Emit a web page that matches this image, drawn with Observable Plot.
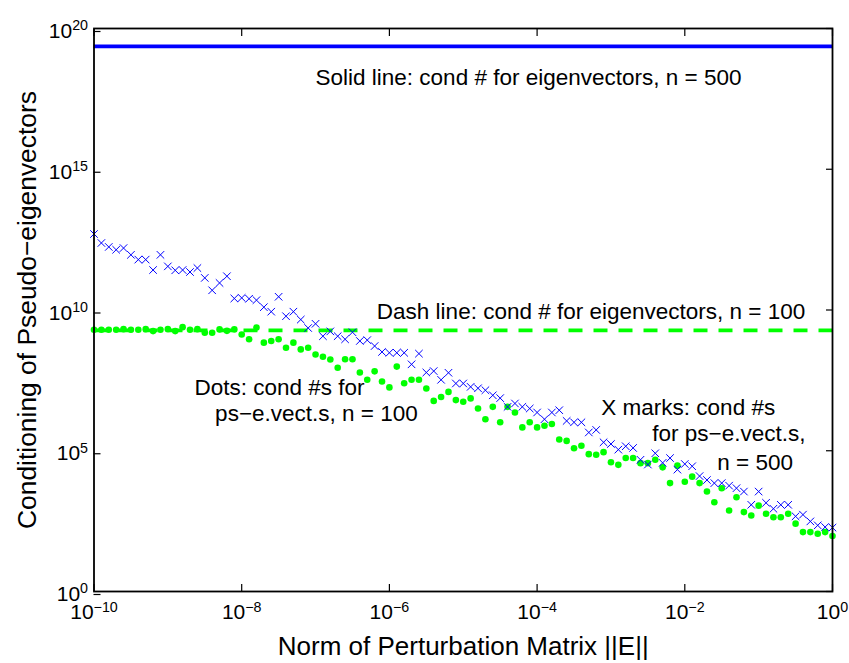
<!DOCTYPE html>
<html><head><meta charset="utf-8">
<script src="https://cdn.jsdelivr.net/npm/d3@7"></script>
<script src="https://cdn.jsdelivr.net/npm/@observablehq/plot@0.6"></script>
<style>html,body{margin:0;padding:0;background:#fff;}</style>
</head><body><div id="chart"></div>
<script>
// log10 of ||E|| for each sample
const normExponents = [
 -10,-9.9,-9.8,-9.7,-9.6,-9.5,-9.4,-9.3,-9.2,-9.1,
 -9,-8.9,-8.8,-8.7,-8.6,-8.5,-8.4,-8.3,-8.2,-8.1,
 -8,-7.9,-7.8,-7.7,-7.6,-7.5,-7.4,-7.3,-7.2,-7.1,
 -7,-6.9,-6.8,-6.7,-6.6,-6.5,-6.4,-6.3,-6.2,-6.1,
 -6,-5.9,-5.8,-5.7,-5.6,-5.5,-5.4,-5.3,-5.2,-5.1,
 -5,-4.9,-4.8,-4.7,-4.6,-4.5,-4.4,-4.3,-4.2,-4.1,
 -4,-3.9,-3.8,-3.7,-3.6,-3.5,-3.4,-3.3,-3.2,-3.1,
 -3,-2.9,-2.8,-2.7,-2.6,-2.5,-2.4,-2.3,-2.2,-2.1,
 -2,-1.9,-1.8,-1.7,-1.6,-1.5,-1.4,-1.3,-1.2,-1.1,
 -1,-0.9,-0.8,-0.7,-0.6,-0.5,-0.4,-0.3,-0.2,-0.1,
 0];
// log10 of condition number of pseudo-eigenvectors, n = 500 (X marks)
const condN500Log10 = [
 12.70,12.38,12.24,12.14,12.20,11.96,11.79,11.79,11.42,11.96,
 11.55,11.41,11.42,11.35,11.49,11.14,10.70,10.96,11.20,10.41,
 10.43,10.40,10.35,10.10,9.94,10.47,9.78,9.94,9.66,9.36,
 9.51,9.07,9.24,9.07,8.96,9.21,8.90,8.93,8.72,8.51,
 8.48,8.48,8.48,8.07,8.45,7.78,7.83,7.52,7.77,7.39,
 7.39,7.27,7.22,7.15,6.97,6.87,6.56,6.68,6.56,6.50,
 6.36,6.12,6.36,6.44,6.06,6.01,6.01,5.65,5.74,5.30,
 5.24,5.04,5.16,5.10,4.68,4.51,4.91,4.57,4.74,4.33,
 4.53,4.45,4.10,3.96,3.85,3.85,3.76,3.67,3.55,3.08,
 3.55,3.15,2.94,3.08,3.08,2.67,2.73,2.49,2.35,2.29,
 2.27];
// log10 of condition number of pseudo-eigenvectors, n = 100 (dots)
const condN100Log10 = [
 9.30,9.30,9.30,9.30,9.32,9.30,9.30,9.32,9.25,9.30,
 9.32,9.25,9.39,9.30,9.32,9.19,9.19,9.31,9.26,9.31,
 9.13,8.96,9.38,8.84,8.90,8.96,8.66,8.84,8.60,8.66,
 8.42,8.34,8.24,7.95,8.25,8.25,7.78,7.52,7.82,7.46,
 7.25,7.99,7.40,7.52,7.52,7.21,6.77,6.91,7.09,6.80,
 6.74,6.86,6.50,6.12,6.56,6.01,6.56,6.36,5.83,6.01,
 5.83,5.89,5.95,5.40,5.35,5.09,5.18,4.88,4.86,4.95,
 4.59,4.50,4.74,4.74,4.56,4.56,4.68,4.41,3.85,4.47,
 3.90,4.08,3.85,3.55,3.17,3.67,2.88,3.35,2.82,2.70,
 3.05,2.76,2.64,2.64,2.76,2.41,2.11,2.11,2.05,2.11,
 1.97];
// condition numbers of the true eigenvectors
const eigCondN500 = 2.3e19;
const eigCondN100 = 1.9e9;

const xTickExponents = [-10, -8, -6, -4, -2, 0];
const yTickExponents = [0, 5, 10, 15, 20];
const xLabel = "Norm of Perturbation Matrix ||E||";
const yLabel = "Conditioning of Pseudo\u2212eigenvectors";
const noteTexts = [
  "Solid line: cond # for eigenvectors, n = 500",
  "Dash line: cond # for eigenvectors, n = 100",
  "Dots: cond #s for",
  "ps\u2212e.vect.s, n = 100",
  "X marks: cond #s",
  "for ps\u2212e.vect.s,",
  "n = 500"
];
// annotation anchors (log10 x, log10 y), left-aligned like MATLAB text()
const noteX = [-7.0, -6.17, -8.64, -8.36, -3.13, -2.44, -1.56];
const noteY = [18.26, 9.95, 7.25, 6.33, 6.54, 5.61, 4.58];

const points = normExponents.map((e, i) => ({
  x: Math.pow(10, e),
  n500: Math.pow(10, condN500Log10[i]),
  n100: Math.pow(10, condN100Log10[i])
}));
const notes = noteTexts.map((t, i) => ({text: t, x: Math.pow(10, noteX[i]), y: Math.pow(10, noteY[i])}));
const xTicks = xTickExponents.map(e => Math.pow(10, e));
const yTicks = yTickExponents.map(e => Math.pow(10, e));
const fmt = d => "10^" + Math.round(Math.log10(d));

const BLUE = "#0000ff", GREEN = "#00ff00";

const chart = Plot.plot({
  width: 849, height: 663,
  marginLeft: 93.5, marginRight: 17, marginTop: 28, marginBottom: 72,
  style: {fontFamily: "'Liberation Sans', Arial, Helvetica, sans-serif", background: "#fff", color: "#000", overflow: "visible"},
  x: {type: "log", domain: [1e-10, 1], label: null},
  y: {type: "log", domain: [1, 1e20], label: null},
  marks: [
    Plot.ruleY([eigCondN500], {stroke: BLUE, strokeWidth: 3.8}),
    Plot.ruleY([eigCondN100], {stroke: GREEN, strokeWidth: 3.8, strokeDasharray: "14,11"}),
    Plot.dot(points, {x: "x", y: "n100", r: 3.3, fill: GREEN, stroke: null}),
    Plot.dot(points, {x: "x", y: "n500", r: 3.5, symbol: "times", stroke: BLUE, strokeWidth: 1}),
    Plot.text(notes, {x: "x", y: "y", text: "text", textAnchor: "start", fontSize: 22.5, fill: "#000"}),
    Plot.frame({stroke: "#000", strokeWidth: 1.8}),
    Plot.axisX({anchor: "bottom", ticks: xTicks, tickSize: -7, tickPadding: 20, tickFormat: fmt, fontSize: 21, label: null, strokeWidth: 1.2}),
    Plot.axisX({anchor: "top", ticks: xTicks, tickSize: -7, tickFormat: () => "", label: null, strokeWidth: 1.2}),
    Plot.axisY({anchor: "left", ticks: yTicks, tickSize: -7, tickPadding: 13, tickFormat: fmt, fontSize: 21, dy: 3, label: null, strokeWidth: 1.2}),
    Plot.axisY({anchor: "right", ticks: yTicks, tickSize: -7, tickFormat: () => "", label: null, strokeWidth: 1.2}),
    Plot.text([xLabel], {frameAnchor: "bottom", dy: 55, textAnchor: "middle", lineAnchor: "middle", fontSize: 26, fill: "#000"}),
    Plot.text([yLabel], {frameAnchor: "left", dx: -66, textAnchor: "middle", lineAnchor: "middle", rotate: -90, fontSize: 26.4, fill: "#000"})
  ]
});

// render "10^k" tick labels as a base with a superscript exponent
d3.select(chart).selectAll('g[aria-label$="tick label"] text').each(function () {
  const m = /^10\^(-?\d+)$/.exec(this.textContent);
  if (!m) return;
  const el = d3.select(this);
  el.text(null);
  el.append("tspan").text("10");
  el.append("tspan").attr("dy", "-0.55em").attr("font-size", "0.68em").text(m[1].replace("-", "\u2212"));
});

document.getElementById("chart").appendChild(chart);
</script>
</body></html>
